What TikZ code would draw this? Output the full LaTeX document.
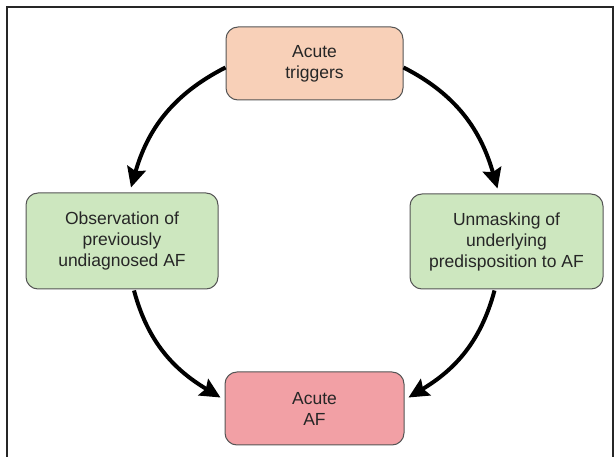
\documentclass[tikz,border=0pt]{standalone}
\usepackage{fontspec}
\setmainfont{Liberation Sans}
\usetikzlibrary{arrows.meta}
\definecolor{peach}{HTML}{F8D0B8}
\definecolor{mint}{HTML}{CDE7BF}
\definecolor{rose}{HTML}{F2A0A5}
\definecolor{edge}{HTML}{555555}
\begin{document}
\begin{tikzpicture}[x=1pt,y=1pt,
  box/.style={draw=edge,line width=1pt,rounded corners=12pt,align=center,
    font=\fontsize{17.5}{21}\selectfont,text=black!85,inner sep=0pt},
  flow/.style={line width=4pt,-{Stealth[length=20pt,width=19pt,inset=3pt]}}]
\useasboundingbox (0,0) rectangle (614,-457);
\begin{scope}
\clip (0,0) rectangle (614,-457);
\draw[line width=2pt,black!85] (7,-7) rectangle (613,-480);
\end{scope}
\node[box,fill=peach,minimum width=177pt,minimum height=73pt] (top) at (314.5,-63.5) {Acute\\triggers};
\node[box,fill=mint,minimum width=192pt,minimum height=96pt] (left) at (122,-241) {Observation of\\previously\\undiagnosed AF};
\node[box,fill=mint,minimum width=193pt,minimum height=95pt] (right) at (506.5,-241.5) {Unmasking of\\underlying\\predisposition to AF};
\node[box,fill=rose,minimum width=179pt,minimum height=73pt] (bottom) at (314.5,-408.5) {Acute\\AF};
\draw[flow] ([yshift=-4pt]top.west) to[out=207,in=74] ([xshift=9pt,yshift=5pt]left.north);
\draw[flow] ([yshift=-4pt]top.east) to[out=-27,in=106] ([xshift=-9pt,yshift=5pt]right.north);
\draw[flow] ([xshift=12pt,yshift=-1pt]left.south) to[out=-75,in=149] ([xshift=-4pt,yshift=11pt]bottom.west);
\draw[flow] ([xshift=-12pt,yshift=-1pt]right.south) to[out=-105,in=31] ([xshift=4pt,yshift=11pt]bottom.east);
\end{tikzpicture}
\end{document}
